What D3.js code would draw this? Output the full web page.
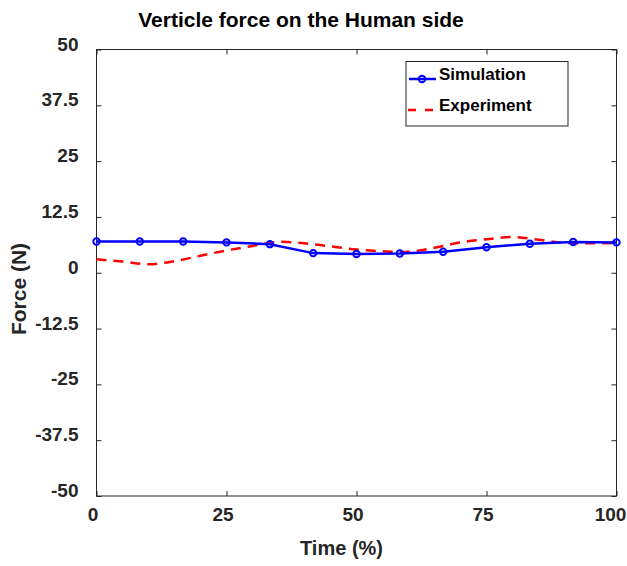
<!DOCTYPE html>
<html>
<head>
<meta charset="utf-8">
<script src="https://cdn.jsdelivr.net/npm/d3@7"></script>
<style>
  body { margin: 0; background: #fff; }
  svg { font-family: "Liberation Sans", Arial, sans-serif; }
</style>
</head>
<body>
<svg id="chart" width="627" height="566"></svg>
<script>
// data
const simTime = [0, 8.33, 16.67, 25, 33.33, 41.67, 50, 58.33, 66.67, 75, 83.33, 91.67, 100];
const simForce = [7.0, 7.0, 7.0, 6.8, 6.4, 4.4, 4.2, 4.3, 4.7, 5.7, 6.5, 6.9, 6.8];
const expTime = [0, 5, 10, 15, 20, 25, 30, 35, 40, 45, 50, 55, 60, 65, 70, 75, 80, 85, 90, 95, 100];
const expForce = [3.0, 2.5, 1.9, 2.6, 3.8, 5.0, 6.0, 6.9, 6.6, 5.9, 5.2, 4.8, 4.7, 5.6, 6.8, 7.5, 8.0, 7.4, 6.7, 6.6, 6.7];
const xTicks = [0, 25, 50, 75, 100];
const yTicks = [-50, -37.5, -25, -12.5, 0, 12.5, 25, 37.5, 50];

const svg = d3.select('#chart');
const pL = 96.5, pR = 616.5, pT = 49.5, pB = 496;
const ink = '#262626';

const x = d3.scaleLinear().domain([0, 100]).range([pL, pR]);
const y = d3.scaleLinear().domain([-50, 50]).range([pB, pT]);

//axes with inward ticks
svg.append('g').attr('class', 'xax').attr('transform', `translate(0,${pB})`)
    .call(d3.axisBottom(x).tickValues(xTicks).tickSizeInner(-5).tickSizeOuter(0).tickPadding(12))
    .call(g => g.select('.domain').remove());
svg.append('g').attr('transform', `translate(0,${pT})`)
    .call(d3.axisTop(x).tickValues(xTicks).tickSizeInner(-5).tickSizeOuter(0).tickFormat(''))
    .call(g => g.select('.domain').remove());
svg.append('g').attr('class', 'yax').attr('transform', `translate(${pL},0)`)
    .call(d3.axisLeft(y).tickValues(yTicks).tickSizeInner(-5).tickSizeOuter(0).tickPadding(18).tickFormat(d => d))
    .call(g => g.select('.domain').remove());
svg.append('g').attr('transform', `translate(${pR},0)`)
    .call(d3.axisRight(y).tickValues(yTicks).tickSizeInner(-5).tickSizeOuter(0).tickFormat(''))
    .call(g => g.select('.domain').remove());

svg.selectAll('.tick line').attr('stroke', ink);
svg.selectAll('.tick text')
    .attr('fill', ink)
    .attr('font-size', 19)
    .attr('font-weight', 'bold');
svg.selectAll('.xax .tick text').attr('dx', (d, i) => i == xTicks.length - 1 ? -6.5 : -4);
svg.selectAll('.yax .tick text').attr('dy', '0.03em');

svg.append('rect')
    .attr('x', pL).attr('y', pT)
    .attr('width', pR - pL).attr('height', pB - pT)
    .attr('fill', 'none').attr('stroke', ink).attr('stroke-width', 1);

// experiment
const expPts = expTime.map((t, i) => [t, expForce[i]]);
svg.append('path')
    .datum(expPts)
    .attr('d', d3.line().x(d => x(d[0])).y(d => y(d[1])).curve(d3.curveCatmullRom))
    .attr('fill', 'none')
    .attr('stroke', '#ff0000')
    .attr('stroke-width', 2.5)
    .attr('stroke-dasharray', '10,7');

// simulation
const simPts = simTime.map((t, i) => [t, simForce[i]]);
svg.append('path')
    .datum(simPts)
    .attr('d', d3.line().x(d => x(d[0])).y(d => y(d[1])))
    .attr('fill', 'none')
    .attr('stroke', '#0000ff')
    .attr('stroke-width', 2.5);
svg.selectAll('circle.sim')
    .data(simPts)
    .enter()
    .append('circle')
    .attr('class', 'sim')
    .attr('cx', d => x(d[0]))
    .attr('cy', d => y(d[1]))
    .attr('r', 3.2)
    .attr('fill', 'none')
    .attr('stroke', '#0000ff')
    .attr('stroke-width', 2);

// legend
const lg = svg.append('g');
lg.append('rect')
    .attr('x', 406).attr('y', 61.5).attr('width', 162).attr('height', 64.5)
    .attr('fill', '#fff').attr('stroke', ink).attr('stroke-width', 1);
lg.append('line').attr('x1', 409).attr('x2', 436).attr('y1', 79).attr('y2', 79)
    .attr('stroke', '#0000ff').attr('stroke-width', 2.5);
lg.append('circle').attr('cx', 422).attr('cy', 79).attr('r', 3.2)
    .attr('fill', 'none').attr('stroke', '#0000ff').attr('stroke-width', 2);
lg.append('line').attr('x1', 408).attr('x2', 434).attr('y1', 110).attr('y2', 110)
    .attr('stroke', '#ff0000').attr('stroke-width', 2.5).attr('stroke-dasharray', '8,9');
lg.append('text').attr('x', 439).attr('y', 80)
    .attr('font-size', 17).attr('font-weight', 'bold').attr('fill', '#000').text('Simulation');
lg.append('text').attr('x', 439).attr('y', 110.5)
    .attr('font-size', 17).attr('font-weight', 'bold').attr('fill', '#000').text('Experiment');

// titles
svg.append('text')
    .attr('x', 301).attr('y', 27)
    .attr('text-anchor', 'middle')
    .attr('font-size', 21).attr('font-weight', 'bold').attr('fill', '#000')
    .text('Verticle force on the Human side');
svg.append('text')
    .attr('x', 341.5).attr('y', 555)
    .attr('text-anchor', 'middle')
    .attr('font-size', 20).attr('font-weight', 'bold').attr('fill', ink)
    .text('Time (%)');
svg.append('text')
    .attr('transform', 'translate(25.5,289) rotate(-90)')
    .attr('text-anchor', 'middle')
    .attr('font-size', 21).attr('font-weight', 'bold').attr('fill', ink)
    .text('Force (N)');
</script>
</body>
</html>
